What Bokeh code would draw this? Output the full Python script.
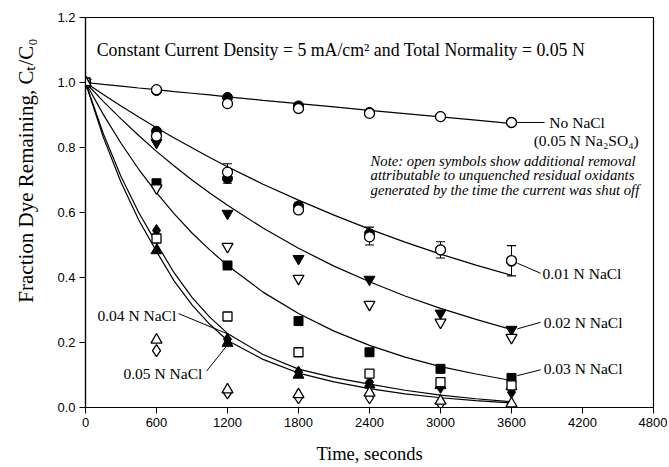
from bokeh.plotting import figure
from bokeh.models import Range1d, FixedTicker, Whisker, TeeHead, ColumnDataSource, Label
from bokeh.core.properties import value
from bokeh.embed import file_html
from bokeh.resources import INLINE

# ---------------- data ----------------
T = [0, 600, 1200, 1800, 2400, 3000, 3600]

no_nacl_filled = [1.0, 0.975, 0.954, 0.928, 0.908, 0.895, 0.877]
no_nacl_open = [1.0, 0.978, 0.935, 0.920, 0.905, 0.895, 0.877]

n01_filled = [1.0, 0.850, 0.705, 0.620, 0.535, 0.485, 0.450]
n01_open = [1.0, 0.835, 0.724, 0.608, 0.525, 0.485, 0.452]
err_t = [1200, 1800, 2400, 3000, 3600]
err_lo = [0.690, 0.600, 0.500, 0.460, 0.405]
err_hi = [0.750, 0.630, 0.555, 0.510, 0.498]

n02_filled = [1.0, 0.815, 0.597, 0.458, 0.394, 0.290, 0.240]
n02_open = [1.0, 0.675, 0.495, 0.397, 0.317, 0.262, 0.215]

n03_filled = [1.0, 0.690, 0.437, 0.266, 0.170, 0.119, 0.091]
n03_open = [1.0, 0.520, 0.280, 0.170, 0.104, 0.078, 0.068]

n04_filled = [1.0, 0.545, 0.210, 0.109, 0.078, 0.062, 0.047]
n04_open = [1.0, 0.175, 0.045, 0.030, 0.030, 0.012, 0.008]

n05_filled = [1.0, 0.483, 0.198, 0.100, 0.070, 0.068, 0.065]
n05_open = [1.0, 0.208, 0.055, 0.040, 0.045, 0.020, 0.012]

# fitted curves
T_CURVE = [0, 150, 300, 450, 600, 750, 900, 1050, 1200, 1500, 1800, 2100, 2400, 2700, 3000, 3300, 3600]
curve_no = [1.0, 0.994, 0.989, 0.983, 0.978, 0.972, 0.967, 0.962, 0.956, 0.945, 0.935, 0.925, 0.914, 0.904, 0.894, 0.884, 0.874]
curve_01 = [1.0, 0.963, 0.928, 0.894, 0.861, 0.829, 0.799, 0.769, 0.741, 0.687, 0.638, 0.592, 0.549, 0.509, 0.472, 0.438, 0.407]
curve_02 = [1.0, 0.942, 0.888, 0.837, 0.788, 0.743, 0.700, 0.660, 0.622, 0.552, 0.490, 0.435, 0.387, 0.343, 0.305, 0.271, 0.240]
curve_03 = [1.0, 0.902, 0.813, 0.733, 0.661, 0.596, 0.537, 0.485, 0.437, 0.355, 0.289, 0.235, 0.191, 0.155, 0.126, 0.103, 0.083]
curve_04 = [1.0, 0.843, 0.711, 0.600, 0.505, 0.414, 0.339, 0.278, 0.228, 0.163, 0.118, 0.092, 0.072, 0.053, 0.038, 0.027, 0.018]
curve_05 = [1.0, 0.832, 0.693, 0.577, 0.480, 0.389, 0.316, 0.256, 0.206, 0.148, 0.106, 0.079, 0.058, 0.042, 0.030, 0.021, 0.014]

X_TICKS = [0, 600, 1200, 1800, 2400, 3000, 3600, 4200, 4800]
Y_TICKS = [0.0, 0.2, 0.4, 0.6, 0.8, 1.0, 1.2]

# ---------------- figure ----------------
SERIF = "Liberation Serif"
SANS = "Liberation Sans"

p = figure(width=667, height=466, output_backend="svg", toolbar_location=None,
           x_range=Range1d(0, 4800), y_range=Range1d(0, 1.2),
           min_border_left=85, min_border_right=14, min_border_top=17, min_border_bottom=59)
p.background_fill_color = "white"
p.border_fill_color = "white"
p.outline_line_color = "black"
p.outline_line_width = 1.2
p.grid.visible = False

p.xaxis.ticker = FixedTicker(ticks=X_TICKS)
p.yaxis.ticker = FixedTicker(ticks=Y_TICKS)
p.xaxis.major_label_overrides = {t: str(t) for t in X_TICKS}
p.yaxis.major_label_overrides = {t: f"{t:.1f}" for t in Y_TICKS}
for ax in (p.xaxis[0], p.yaxis[0]):
    ax.minor_tick_line_color = None
    ax.major_tick_in = 0
    ax.major_tick_out = 6
    ax.axis_line_color = "black"
    ax.axis_line_width = 1.2
    ax.major_tick_line_color = "black"
    ax.major_label_text_font = SANS
    ax.major_label_text_font_size = "13px"
    ax.major_label_text_color = "black"
    ax.axis_label_text_font = SERIF
    ax.axis_label_text_font_style = "normal"
    ax.axis_label_text_color = "black"
p.xaxis.axis_label = "Time, seconds"
p.xaxis.axis_label_text_font_size = "18.5px"
p.xaxis.axis_label_standoff = 14
p.xaxis.major_label_standoff = 4
p.yaxis.major_label_standoff = 4
# leading no-break spaces move the visible title up along the axis, as in the original
p.yaxis.axis_label = "\u00a0" * 16 + "Fraction Dye Remaining, Cₜ/C₀"
p.yaxis.axis_label_text_font_size = "21px"
p.yaxis.axis_label_standoff = 16

# curves
for c in (curve_no, curve_01, curve_02, curve_03, curve_04, curve_05):
    p.line(T_CURVE, c, line_color="black", line_width=1.2)

# leader lines for labels
LEADERS = [
    ([3600, 3880], [0.877, 0.877]),
    ([3649, 3846], [0.444, 0.413]),
    ([3649, 3846], [0.242, 0.262]),
    ([3649, 3846], [0.098, 0.116]),
    ([786, 1198], [0.289, 0.227]),
    ([1023, 1212], [0.112, 0.198]),
]
for xs, ys in LEADERS:
    p.line(xs, ys, line_color="black", line_width=1)

# error bars
esrc = ColumnDataSource(dict(t=err_t, lo=err_lo, hi=err_hi))
p.add_layout(Whisker(source=esrc, base="t", lower="lo", upper="hi", line_color="black", line_width=1,
                     upper_head=TeeHead(size=9, line_color="black", line_width=1.2),
                     lower_head=TeeHead(size=9, line_color="black", line_width=1.2)))

MS = 10
def filled(marker, ys, size=MS):
    p.scatter(T, ys, marker=marker, size=size, fill_color="black", line_color="black", line_width=1)

def opened(marker, ys, size=MS):
    p.scatter(T, ys, marker=marker, size=size, fill_color="white", line_color="black", line_width=1.3)

filled("circle", no_nacl_filled)
filled("circle", n01_filled)
filled("inverted_triangle", n02_filled, 11)
filled("square", n03_filled, 9)
filled("diamond", n04_filled, 12)
filled("triangle", n05_filled, 11)

opened("circle", no_nacl_open)
opened("circle", n01_open)
opened("inverted_triangle", n02_open, 11)
opened("square", n03_open, 9)
opened("diamond", n04_open, 12)
opened("triangle", n05_open, 11)

# texts
p.add_layout(Label(x=95, y=1.1, text="Constant Current Density = 5 mA/cm² and Total Normality = 0.05 N",
                   text_font=SERIF, text_font_size="17.8px", text_baseline="middle", text_color="black"))

LABELS = [
    (3920, 0.877, "No NaCl"),
    (3787, 0.822, "(0.05 N Na₂SO₄)"),
    (3863, 0.412, "0.01 N NaCl"),
    (3872, 0.262, "0.02 N NaCl"),
    (3872, 0.119, "0.03 N NaCl"),
    (101, 0.283, "0.04 N NaCl"),
    (321, 0.105, "0.05 N NaCl"),
]
p.text(x=[l[0] for l in LABELS], y=[l[1] for l in LABELS], text=[l[2] for l in LABELS],
       text_font=value(SERIF), text_font_size=value("15.5px"), text_baseline="middle",
       text_align="left", text_color="black")

NOTE = [
    (2409, 0.760, "Note: open symbols show additional removal"),
    (2409, 0.714, "attributable to unquenched residual oxidants"),
    (2409, 0.668, "generated by the time the current was shut off"),
]
p.text(x=[l[0] for l in NOTE], y=[l[1] for l in NOTE], text=[l[2] for l in NOTE],
       text_font=value(SERIF), text_font_size=value("14.7px"), text_font_style="italic",
       text_baseline="middle", text_align="left", text_color="black")

open("out.html", "w").write(file_html(p, INLINE))
